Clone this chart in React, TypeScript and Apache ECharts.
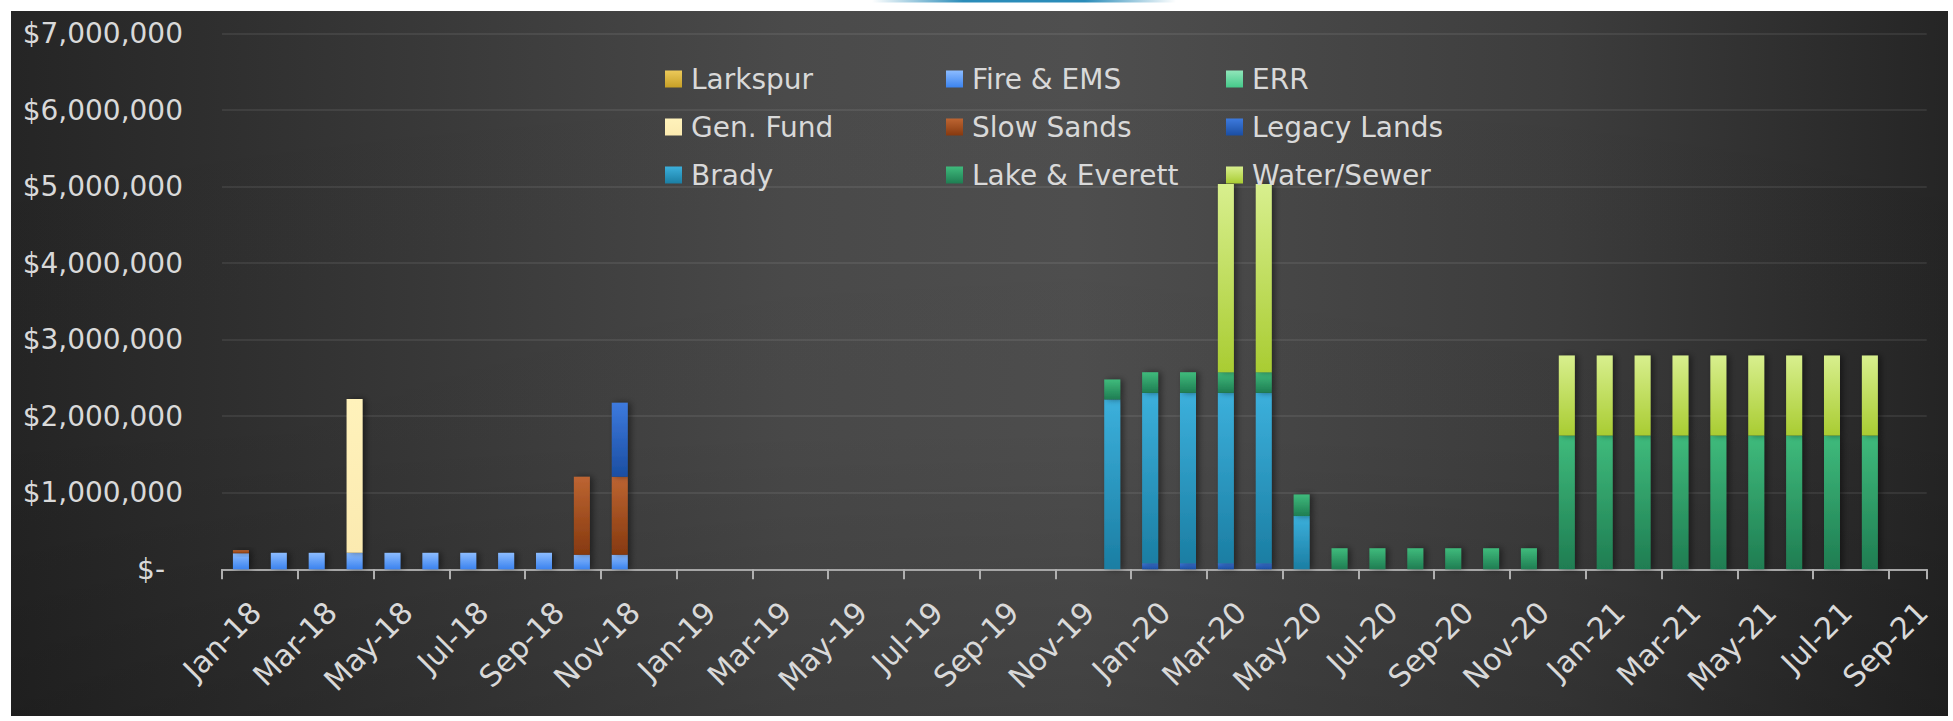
import React, { useEffect, useRef } from "react";
import * as echarts from "echarts";

const months = [
  "Jan-18", "Feb-18", "Mar-18", "Apr-18", "May-18", "Jun-18", "Jul-18", "Aug-18", "Sep-18", "Oct-18", "Nov-18", "Dec-18",
  "Jan-19", "Feb-19", "Mar-19", "Apr-19", "May-19", "Jun-19", "Jul-19", "Aug-19", "Sep-19", "Oct-19", "Nov-19", "Dec-19",
  "Jan-20", "Feb-20", "Mar-20", "Apr-20", "May-20", "Jun-20", "Jul-20", "Aug-20", "Sep-20", "Oct-20", "Nov-20", "Dec-20",
  "Jan-21", "Feb-21", "Mar-21", "Apr-21", "May-21", "Jun-21", "Jul-21", "Aug-21", "Sep-21",
];

const larkspur = [
  0, 0, 0, 0, 0, 0, 0, 0, 0, 0, 0, 0,
  0, 0, 0, 0, 0, 0, 0, 0, 0, 0, 0, 0,
  0, 0, 0, 0, 0, 0, 0, 0, 0, 0, 0, 0,
  0, 0, 0, 0, 0, 0, 0, 0, 0,
];
const fireEms = [
  210000, 215000, 215000, 215000, 215000, 215000, 215000, 215000, 215000, 190000, 190000, 0,
  0, 0, 0, 0, 0, 0, 0, 0, 0, 0, 0, 0,
  0, 0, 0, 0, 0, 0, 0, 0, 0, 0, 0, 0,
  0, 0, 0, 0, 0, 0, 0, 0, 0,
];
const err = [
  0, 0, 0, 0, 0, 0, 0, 0, 0, 0, 0, 0,
  0, 0, 0, 0, 0, 0, 0, 0, 0, 0, 0, 0,
  0, 0, 0, 0, 0, 0, 0, 0, 0, 0, 0, 0,
  0, 0, 0, 0, 0, 0, 0, 0, 0,
];
const genFund = [
  0, 0, 0, 2010000, 0, 0, 0, 0, 0, 0, 0, 0,
  0, 0, 0, 0, 0, 0, 0, 0, 0, 0, 0, 0,
  0, 0, 0, 0, 0, 0, 0, 0, 0, 0, 0, 0,
  0, 0, 0, 0, 0, 0, 0, 0, 0,
];
const slowSands = [
  40000, 0, 0, 0, 0, 0, 0, 0, 0, 1020000, 1020000, 0,
  0, 0, 0, 0, 0, 0, 0, 0, 0, 0, 0, 0,
  0, 0, 0, 0, 0, 0, 0, 0, 0, 0, 0, 0,
  0, 0, 0, 0, 0, 0, 0, 0, 0,
];
const legacyLands = [
  0, 0, 0, 0, 0, 0, 0, 0, 0, 0, 965000, 0,
  0, 0, 0, 0, 0, 0, 0, 0, 0, 0, 0, 0,
  80000, 80000, 80000, 80000, 0, 0, 0, 0, 0, 0, 0, 0,
  0, 0, 0, 0, 0, 0, 0, 0, 0,
];
const brady = [
  0, 0, 0, 0, 0, 0, 0, 0, 0, 0, 0, 0,
  0, 0, 0, 0, 0, 0, 0, 0, 0, 0, 0, 2220000,
  2225000, 2225000, 2225000, 2225000, 695000, 0, 0, 0, 0, 0, 0, 0,
  0, 0, 0, 0, 0, 0, 0, 0, 0,
];
const lakeEverett = [
  0, 0, 0, 0, 0, 0, 0, 0, 0, 0, 0, 0,
  0, 0, 0, 0, 0, 0, 0, 0, 0, 0, 0, 260000,
  270000, 270000, 270000, 270000, 283000, 275000, 275000, 275000, 275000, 275000, 275000, 1750000,
  1750000, 1750000, 1750000, 1750000, 1750000, 1750000, 1750000, 1750000, 0,
];
const waterSewer = [
  0, 0, 0, 0, 0, 0, 0, 0, 0, 0, 0, 0,
  0, 0, 0, 0, 0, 0, 0, 0, 0, 0, 0, 0,
  0, 0, 2460000, 2460000, 0, 0, 0, 0, 0, 0, 0, 1045000,
  1045000, 1045000, 1045000, 1045000, 1045000, 1045000, 1045000, 1045000, 0,
];

const seriesNames = [
  "Larkspur", "Fire & EMS", "ERR", "Gen. Fund", "Slow Sands", "Legacy Lands", "Brady", "Lake & Everett", "Water/Sewer",
];
const seriesData = [larkspur, fireEms, err, genFund, slowSands, legacyLands, brady, lakeEverett, waterSewer];
const topColors = ["#ecc95a", "#8cbcff", "#90e6ba", "#fff2bb", "#bd6532", "#3d7ade", "#3cb0dc", "#3fbb7c", "#d8ef8e"];
const bottomColors = ["#c69f26", "#3b83ef", "#45c98a", "#fbeab0", "#86390f", "#1b4ea2", "#1b7ea3", "#1f7d52", "#a9cc32"];

const legendCols = [
  ["Larkspur", "Gen. Fund", "Brady"],
  ["Fire & EMS", "Slow Sands", "Lake & Everett"],
  ["ERR", "Legacy Lands", "Water/Sewer"],
];
const legendLefts = [660, 941, 1221];

const FONT = "DejaVu Sans";
const TEXT = "#d9d9d9";

export default function App() {
  const ref = useRef<HTMLDivElement>(null);
  useEffect(() => {
    if (!ref.current) return;
    const chart = echarts.init(ref.current, null, { renderer: "svg" });
    const grad = (i: number) =>
      new echarts.graphic.LinearGradient(0, 0, 0, 1, [
        { offset: 0, color: topColors[i] },
        { offset: 1, color: bottomColors[i] },
      ]);
    chart.setOption({
      animation: false,
      graphic: [
        {
          type: "rect",
          z: -100,
          silent: true,
          shape: { x: 11, y: 11, width: 1937, height: 705 },
          style: {
            fill: new echarts.graphic.LinearGradient(0, 0, 1, 0, [
              { offset: 0, color: "#252525" },
              { offset: 0.12, color: "#303030" },
              { offset: 0.4, color: "#4a4a4a" },
              { offset: 0.55, color: "#4f4f4f" },
              { offset: 0.8, color: "#3d3d3d" },
              { offset: 1, color: "#252525" },
            ]),
          },
        },
        {
          type: "rect",
          z: -99,
          silent: true,
          shape: { x: 11, y: 11, width: 1937, height: 705 },
          style: {
            fill: new echarts.graphic.LinearGradient(0, 0, 0, 1, [
              { offset: 0, color: "rgba(0,0,0,0)" },
              { offset: 0.6, color: "rgba(0,0,0,0.03)" },
              { offset: 1, color: "rgba(0,0,0,0.18)" },
            ]),
          },
        },
        {
          type: "rect",
          z: -98,
          silent: true,
          shape: { x: 872, y: 0, width: 304, height: 2.5 },
          style: {
            fill: new echarts.graphic.LinearGradient(0, 0, 1, 0, [
              { offset: 0, color: "rgba(40,140,185,0)" },
              { offset: 0.3, color: "#2a8cb9" },
              { offset: 0.7, color: "#2a8cb9" },
              { offset: 1, color: "rgba(40,140,185,0)" },
            ]),
          },
        },
      ],
      legend: legendCols.map((col, ci) => ({
        orient: "vertical",
        left: legendLefts[ci],
        top: 59,
        data: col,
        itemWidth: 17,
        itemHeight: 17,
        itemGap: 18,
        selectedMode: false,
        icon: "rect",
        textStyle: {
          color: TEXT,
          fontFamily: FONT,
          fontSize: 28,
          lineHeight: 30,
          padding: [0, 0, 0, 4],
        },
      })),
      grid: { left: 222, right: 26.3, top: 33.6, bottom: 151.7, containLabel: false },
      xAxis: {
        type: "category",
        data: months,
        boundaryGap: true,
        axisLine: { lineStyle: { color: "#a6a6a6", width: 2 } },
        axisTick: { show: true, interval: 1, length: 10, lineStyle: { color: "#b0b0b0", width: 2 } },
        axisLabel: {
          interval: 1,
          rotate: 45,
          color: TEXT,
          fontFamily: FONT,
          fontSize: 30,
          lineHeight: 42,
          verticalAlign: "top",
          margin: 23,
        },
        splitLine: { show: false },
      },
      yAxis: {
        type: "value",
        min: 0,
        max: 7000000,
        interval: 1000000,
        axisLine: { show: false },
        axisTick: { show: false },
        splitLine: { lineStyle: { color: "rgba(255,255,255,0.1)", width: 1.5 } },
        axisLabel: {
          margin: 39,
          color: TEXT,
          fontFamily: FONT,
          fontSize: 28,
          formatter: (v: number) => (v === 0 ? "{z|$-}" : "$" + v.toLocaleString("en-US")),
          rich: {
            z: { color: TEXT, fontFamily: FONT, fontSize: 28, padding: [0, 18, 0, 0] },
          },
        },
      },
      series: seriesNames.map((name, i) => ({
        name,
        type: "bar",
        stack: "total",
        barWidth: 16,
        data: seriesData[i],
        itemStyle: {
          color: grad(i),
          shadowColor: "rgba(0,0,0,0.45)",
          shadowBlur: 6,
          shadowOffsetX: 3,
        },
      })),
    });
    return () => chart.dispose();
  }, []);
  return (
    <div
      ref={ref}
      style={{ position: "absolute", left: 0, top: 0, width: 1953, height: 721, background: "#ffffff" }}
    />
  );
}
